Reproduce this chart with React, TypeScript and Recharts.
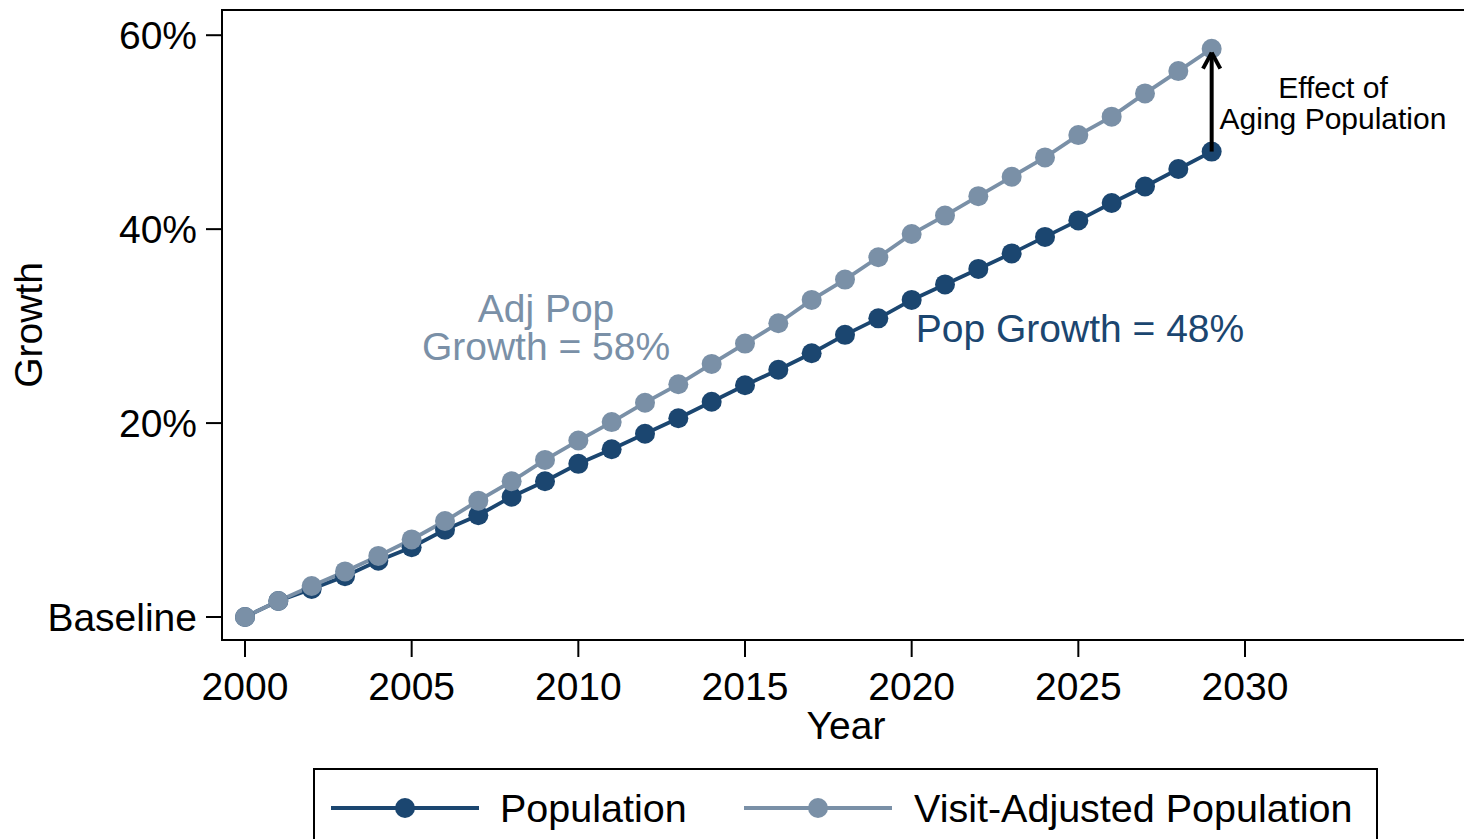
import React from 'react';
import { LineChart, Line, XAxis, YAxis, ReferenceArea, ReferenceLine } from 'recharts';

const years = [2000, 2001, 2002, 2003, 2004, 2005, 2006, 2007, 2008, 2009, 2010, 2011, 2012, 2013, 2014, 2015, 2016, 2017, 2018, 2019, 2020, 2021, 2022, 2023, 2024, 2025, 2026, 2027, 2028, 2029];
const population = [0, 1.65, 2.9, 4.2, 5.8, 7.2, 9.0, 10.5, 12.4, 14.0, 15.8, 17.3, 18.9, 20.5, 22.2, 23.9, 25.5, 27.2, 29.1, 30.8, 32.7, 34.3, 35.9, 37.5, 39.2, 40.9, 42.7, 44.4, 46.2, 48.0];
const visitAdjusted = [0, 1.65, 3.2, 4.7, 6.3, 8.0, 9.9, 12.0, 14.0, 16.2, 18.2, 20.1, 22.1, 24.0, 26.1, 28.2, 30.3, 32.7, 34.8, 37.1, 39.5, 41.4, 43.4, 45.4, 47.4, 49.7, 51.6, 54.0, 56.3, 58.6];
const xTicks = [2000, 2005, 2010, 2015, 2020, 2025, 2030];
const yTicks = [0, 20, 40, 60];
const arrowStart = 48.0;
const arrowTip = 58.2;
const arrowYear = 2029;

const DARK = '#1b4670';
const LIGHT = '#7a90a7';
const FONT = '"Liberation Sans", Arial, Helvetica, sans-serif';

const X_DOMAIN: [number, number] = [1999.31, 2036.75];
const Y_DOMAIN: [number, number] = [-2.37, 62.6];

const data = years.map((y, i) => ({ year: y, pop: population[i], adj: visitAdjusted[i] }));

const yFmt = (v: number) => (v === 0 ? 'Baseline' : `${v}%`);

const GrowthLabel = (props: any) => {
  const vb = props.viewBox || {};
  const cy = (vb.y ?? 10) + (vb.height ?? 630) / 2;
  return (
    <text
      x={28}
      y={cy}
      transform={`rotate(-90, 28, ${cy})`}
      textAnchor="middle"
      dominantBaseline="central"
      fontSize={39}
      fontFamily={FONT}
      fill="#000"
    >
      Growth
    </text>
  );
};

const arrowProps: any = { stroke: '#000', strokeWidth: 4, ifOverflow: 'visible', zIndex: 2000 };

export default function App() {
  return (
    <div style={{ position: 'relative', width: 1464, height: 839, overflow: 'hidden', fontFamily: FONT, background: '#fff' }}>
      <style>{`body{margin:0;overflow:hidden;background:#fff}`}</style>
      <LineChart
        width={1470}
        height={839}
        data={data}
        margin={{ top: 10, right: 0, left: 0, bottom: 89 }}
      >
        <XAxis
          type="number"
          dataKey="year"
          domain={X_DOMAIN}
          ticks={xTicks}
          allowDataOverflow
          height={110}
          tickSize={17}
          tickMargin={15}
          stroke="#000"
          strokeWidth={2}
          tick={{ fill: '#000', fontSize: 39, fontFamily: FONT }}
          label={{ value: 'Year', position: 'insideBottom', offset: 11, fill: '#000', fontSize: 39, fontFamily: FONT }}
        />
        <YAxis
          type="number"
          domain={Y_DOMAIN}
          ticks={yTicks}
          allowDataOverflow
          width={222}
          tickSize={16}
          tickMargin={9}
          stroke="#000"
          strokeWidth={2}
          tickFormatter={yFmt}
          tick={{ fill: '#000', fontSize: 39, fontFamily: FONT }}
          label={<GrowthLabel />}
        />
        <ReferenceArea
          x1={X_DOMAIN[0]}
          x2={X_DOMAIN[1]}
          y1={Y_DOMAIN[0]}
          y2={Y_DOMAIN[1]}
          fill="none"
          fillOpacity={0}
          stroke="#000"
          strokeWidth={2}
          ifOverflow="visible"
        />
        <Line
          type="linear"
          dataKey="pop"
          stroke={DARK}
          strokeWidth={3.8}
          dot={{ r: 10, fill: DARK, stroke: DARK, strokeWidth: 0 }}
          activeDot={false}
          isAnimationActive={false}
        />
        <Line
          type="linear"
          dataKey="adj"
          stroke={LIGHT}
          strokeWidth={3.8}
          dot={{ r: 10, fill: LIGHT, stroke: LIGHT, strokeWidth: 0 }}
          activeDot={false}
          isAnimationActive={false}
        />
        <ReferenceLine
          segment={[{ x: arrowYear, y: arrowStart }, { x: arrowYear, y: arrowTip }]}
          {...arrowProps}
        />
        <ReferenceLine
          segment={[{ x: arrowYear, y: arrowTip }, { x: arrowYear - 0.26, y: arrowTip - 1.65 }]}
          {...arrowProps}
        />
        <ReferenceLine
          segment={[{ x: arrowYear, y: arrowTip }, { x: arrowYear + 0.26, y: arrowTip - 1.65 }]}
          {...arrowProps}
        />
      </LineChart>

      <svg
        width={1464}
        height={839}
        style={{ position: 'absolute', left: 0, top: 0, pointerEvents: 'none' }}
      >
        <g fontFamily={FONT} textAnchor="middle" dominantBaseline="central">
          <text x={546} y={308} fontSize={39} fill={LIGHT}>Adj Pop</text>
          <text x={546} y={346} fontSize={39} fill={LIGHT}>Growth = 58%</text>
          <text x={1080} y={328} fontSize={39} fill={DARK}>Pop Growth = 48%</text>
          <text x={1333} y={87} fontSize={30} fill="#000">Effect of</text>
          <text x={1333} y={118} fontSize={30} fill="#000">Aging Population</text>
        </g>
      </svg>

      <div
        style={{
          position: 'absolute',
          left: 313,
          top: 768,
          width: 1065,
          height: 90,
          border: '2px solid #000',
          boxSizing: 'border-box',
          background: '#fff',
        }}
      >
        <svg width={1061} height={86}>
          <g fontFamily={FONT} fontSize={39.5} dominantBaseline="central">
            <line x1={16} x2={164} y1={38} y2={38} stroke={DARK} strokeWidth={3.8} />
            <circle cx={90} cy={38} r={10} fill={DARK} />
            <text x={185} y={38} fill="#000">Population</text>
            <line x1={429} x2={577} y1={38} y2={38} stroke={LIGHT} strokeWidth={3.8} />
            <circle cx={503} cy={38} r={10} fill={LIGHT} />
            <text x={599} y={38} fill="#000">Visit-Adjusted Population</text>
          </g>
        </svg>
      </div>
    </div>
  );
}
